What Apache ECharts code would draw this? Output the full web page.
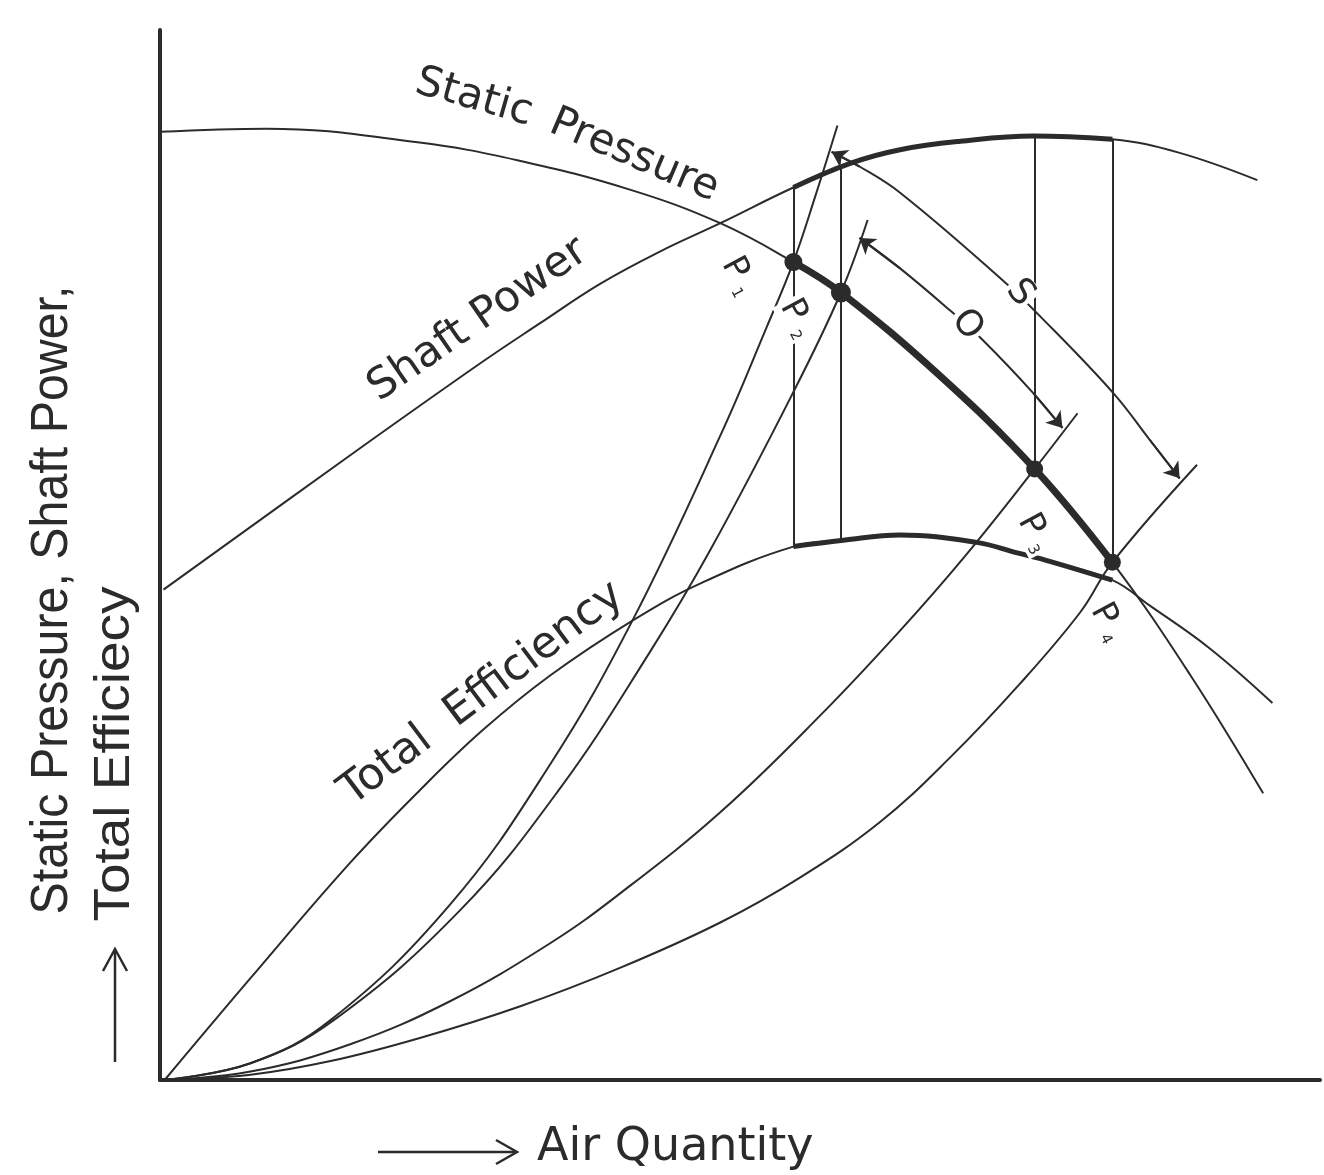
<!DOCTYPE html>
<html>
<head>
<meta charset="utf-8">
<script src="https://cdn.jsdelivr.net/npm/echarts@6.0.0/dist/echarts.min.js"></script>
<style>
html,body{margin:0;padding:0;background:#fff;}
#chart{width:1324px;height:1175px;}
</style>
</head>
<body>
<div id="chart"></div>
<script>
// ---- Data (x: air quantity 0-100, y: 0-100) ----
const staticPressure = [[0,90.3],[9.2,90.6],[22.2,89.3],[30.8,87.6],[40.5,84.8],[48.3,81.6],[54.6,77.9],[58.7,75.0],[67.2,67.1],[75.4,58.2],[82.1,49.3],[88.8,38.6],[95.1,27.3]];
const shaftPower = [[0.3,46.7],[16.4,59.5],[27.8,68.4],[32.8,72.1],[37.9,75.8],[43.1,78.9],[48.3,81.6],[54.6,85.0],[59.5,87.3],[63.8,88.6],[69.0,89.4],[75.3,89.9],[82.1,89.6],[87.9,88.3],[94.6,85.7]];
const totalEfficiency = [[0.4,0],[7.8,9.7],[16.4,20.7],[22.4,27.6],[27.8,33.3],[33.6,38.5],[40.8,43.8],[46.6,47.3],[54.6,50.8],[58.9,51.4],[63.8,51.9],[70.4,51.2],[73.9,50.2],[76.7,49.4],[82.1,47.6],[85.3,45.2],[90.5,41.1],[95.9,35.9]];
const systemCurve1 = [[0.4,0],[7.8,1.6],[14.7,5.7],[25.0,16.7],[33.6,30.0],[40.7,43.7],[48.4,61.6],[52.3,71.7],[54.6,77.9],[56.5,84.2],[58.4,90.9]];
const systemCurve2 = [[0.4,0],[7.8,1.6],[15.1,5.8],[25.9,16.2],[34.5,27.8],[42.2,40.7],[47.4,50.4],[54.5,65.3],[58.7,75.0],[61.0,81.9]];
const systemCurve3 = [[0.4,0],[7.8,0.8],[16.4,3.4],[25.0,7.5],[33.6,13.0],[39.7,17.8],[48.3,25.5],[56.9,34.7],[63.8,42.8],[69.4,49.9],[75.4,58.2],[79.1,63.5]];
const systemCurve4 = [[0.4,0],[7.8,0.5],[14.7,1.8],[22.4,4.0],[31.0,7.0],[39.7,10.7],[48.3,15.0],[55.2,19.3],[62.1,24.6],[68.1,30.7],[74.1,37.7],[79.3,44.5],[82.1,49.3],[89.4,58.6]];
const dimensionS = [[57.9,88.4],[60.3,87.0],[63.8,84.5],[72.4,76.4],[75.9,72.7],[82.2,65.4],[85.3,61.0],[87.9,57.3]];
const dimensionO = [[60.3,80.2],[63.8,77.3],[68.1,73.3],[70.9,70.5],[75.3,65.4],[77.8,62.1]];
const operatingPoints = [[54.6,77.9],[58.7,75.0],[75.4,58.2],[82.1,49.3]];
const pointNames = ['1','2','3','4'];
const verticalTop = [85.0,87.1,89.9,89.6];
const verticalBottom = [50.8,51.4,58.2,49.3];

// ---- Styling ----
const INK = '#2b2b2b';
const thin = {color: INK, width: 2, opacity: 1};
const xLo = operatingPoints[0][0] - 0.01, xHi = operatingPoints[3][0] + 0.01;
const seg = arr => arr.filter(p => p[0] >= xLo && p[0] <= xHi);

function curve(name, data, width) {
  return {
    name, type: 'line', data, symbol: 'none', smooth: 0.4,
    lineStyle: {color: INK, width: width || 2}, silent: true, z: 3
  };
}

const arrowSegments = [dimensionS, dimensionO].flatMap(a => [
  {coords: [a[1], a[0]]},
  {coords: [a[a.length - 2], a[a.length - 1]]}
]);

// label offsets are applied in the rotated label frame: convert screen offsets
const LABEL_ROT = -62;
function localOffset(dx, dy, rotDeg) {
  const r = rotDeg * Math.PI / 180, c = Math.cos(r), s = Math.sin(r);
  return [dx * c - dy * s, dx * s + dy * c];
}
const labelScreenOffsets = [[-55, 14], [-44, 26], [0, 64], [-5, 60]];

const series = [
  curve('Static Pressure', staticPressure),
  curve('Shaft Power', shaftPower),
  curve('Total Efficiency', totalEfficiency),
  curve('System 1', systemCurve1),
  curve('System 2', systemCurve2),
  curve('System 3', systemCurve3),
  curve('System 4', systemCurve4),
  curve('Dim S', dimensionS),
  curve('Dim O', dimensionO),
  curve('SP operating', seg(staticPressure), 7),
  curve('Power operating', seg(shaftPower), 5),
  curve('Eff operating', seg(totalEfficiency), 5),
  {
    type: 'lines', coordinateSystem: 'cartesian2d', silent: true, z: 3,
    lineStyle: thin, symbol: 'none',
    data: operatingPoints.map((p, i) => ({coords: [[p[0], verticalTop[i]], [p[0], verticalBottom[i]]]}))
  },
  {
    type: 'lines', coordinateSystem: 'cartesian2d', silent: true, z: 3,
    lineStyle: thin, symbol: ['none', 'arrow'], symbolSize: 15,
    itemStyle: {color: INK, opacity: 1},
    data: arrowSegments
  },
  {
    type: 'scatter', symbol: 'circle',
    data: operatingPoints.map((p, i) => ({
      value: p,
      label: {offset: localOffset(labelScreenOffsets[i][0], labelScreenOffsets[i][1], LABEL_ROT)}
    })),
    symbolSize: (v, p) => [18, 20, 17, 17][p.dataIndex],
    itemStyle: {color: INK, opacity: 1}, z: 10, silent: true,
    label: {
      show: true, position: 'inside', rotate: LABEL_ROT,
      formatter: p => '{p|P}{s|' + pointNames[p.dataIndex] + '}',
      backgroundColor: '#fff', padding: [0, 2],
      rich: {
        p: {fontSize: 34, fontFamily: 'DejaVu Sans', color: INK, lineHeight: 34},
        s: {fontSize: 15, fontFamily: 'DejaVu Sans', color: INK, verticalAlign: 'bottom', padding: [0, 0, 0, 8]}
      }
    }
  }
];

const deg = d => d * Math.PI / 180;
const txt = (text, x, y, rotDeg, size, extra) => Object.assign({
  type: 'text', x, y, rotation: deg(rotDeg), z: 100,
  style: Object.assign({text, fontSize: size, fontFamily: 'DejaVu Sans', fill: INK, align: 'center', verticalAlign: 'middle'}, (extra && extra.style) || {})
}, extra && extra.el ? extra.el : {});

const graphics = [
  txt('Static', 474, 98, -16, 42),
  txt('Pressure', 634, 156, -23, 42),
  txt('Shaft Power', 478, 320, 34.5, 43),
  txt('Total  Efficiency', 482, 694, 37, 44),
  txt('S', 1020, 293, -50, 36, {style: {backgroundColor: '#fff', padding: [0, 2]}}),
  txt('O', 967, 325, -50, 36, {style: {backgroundColor: '#fff', padding: [0, 2]}}),
  txt('Static Pressure, Shaft Power,', 53, 600, 90, 52, {style: {fontFamily: 'Liberation Sans'}, el: {scaleX: 0.93}}),
  txt('Total Efficiecy', 115, 754, 90, 50, {style: {fontFamily: 'Liberation Sans'}, el: {scaleX: 1.1}}),
  {type: 'text', x: 537, y: 1148, z: 100, style: {text: 'Air Quantity', fontSize: 46, fontFamily: 'DejaVu Sans', fill: INK, align: 'left', verticalAlign: 'middle'}},
  {type: 'line', z: 100, shape: {x1: 378, y1: 1152, x2: 516, y2: 1152}, style: {stroke: INK, lineWidth: 2.5}},
  {type: 'polyline', z: 100, shape: {points: [[496, 1140], [517, 1152], [496, 1164]]}, style: {stroke: INK, lineWidth: 2.5, fill: null}},
  {type: 'line', z: 100, shape: {x1: 115, y1: 1062, x2: 115, y2: 950}, style: {stroke: INK, lineWidth: 2.5}},
  {type: 'polyline', z: 100, shape: {points: [[103, 971], [115, 949], [127, 971]]}, style: {stroke: INK, lineWidth: 2.5, fill: null}}
];

const option = {
  animation: false,
  backgroundColor: '#ffffff',
  grid: {left: 160, top: 30, width: 1160, height: 1050},
  xAxis: {
    type: 'value', min: 0, max: 100,
    axisLine: {show: true, onZero: false, lineStyle: {color: INK, width: 4}},
    axisTick: {show: false}, axisLabel: {show: false}, splitLine: {show: false}
  },
  yAxis: {
    type: 'value', min: 0, max: 100,
    axisLine: {show: true, onZero: false, lineStyle: {color: INK, width: 4}},
    axisTick: {show: false}, axisLabel: {show: false}, splitLine: {show: false}
  },
  series,
  graphic: {elements: graphics}
};

const chart = echarts.init(document.getElementById('chart'), null, {renderer: 'canvas'});
chart.setOption(option);
</script>
</body>
</html>
